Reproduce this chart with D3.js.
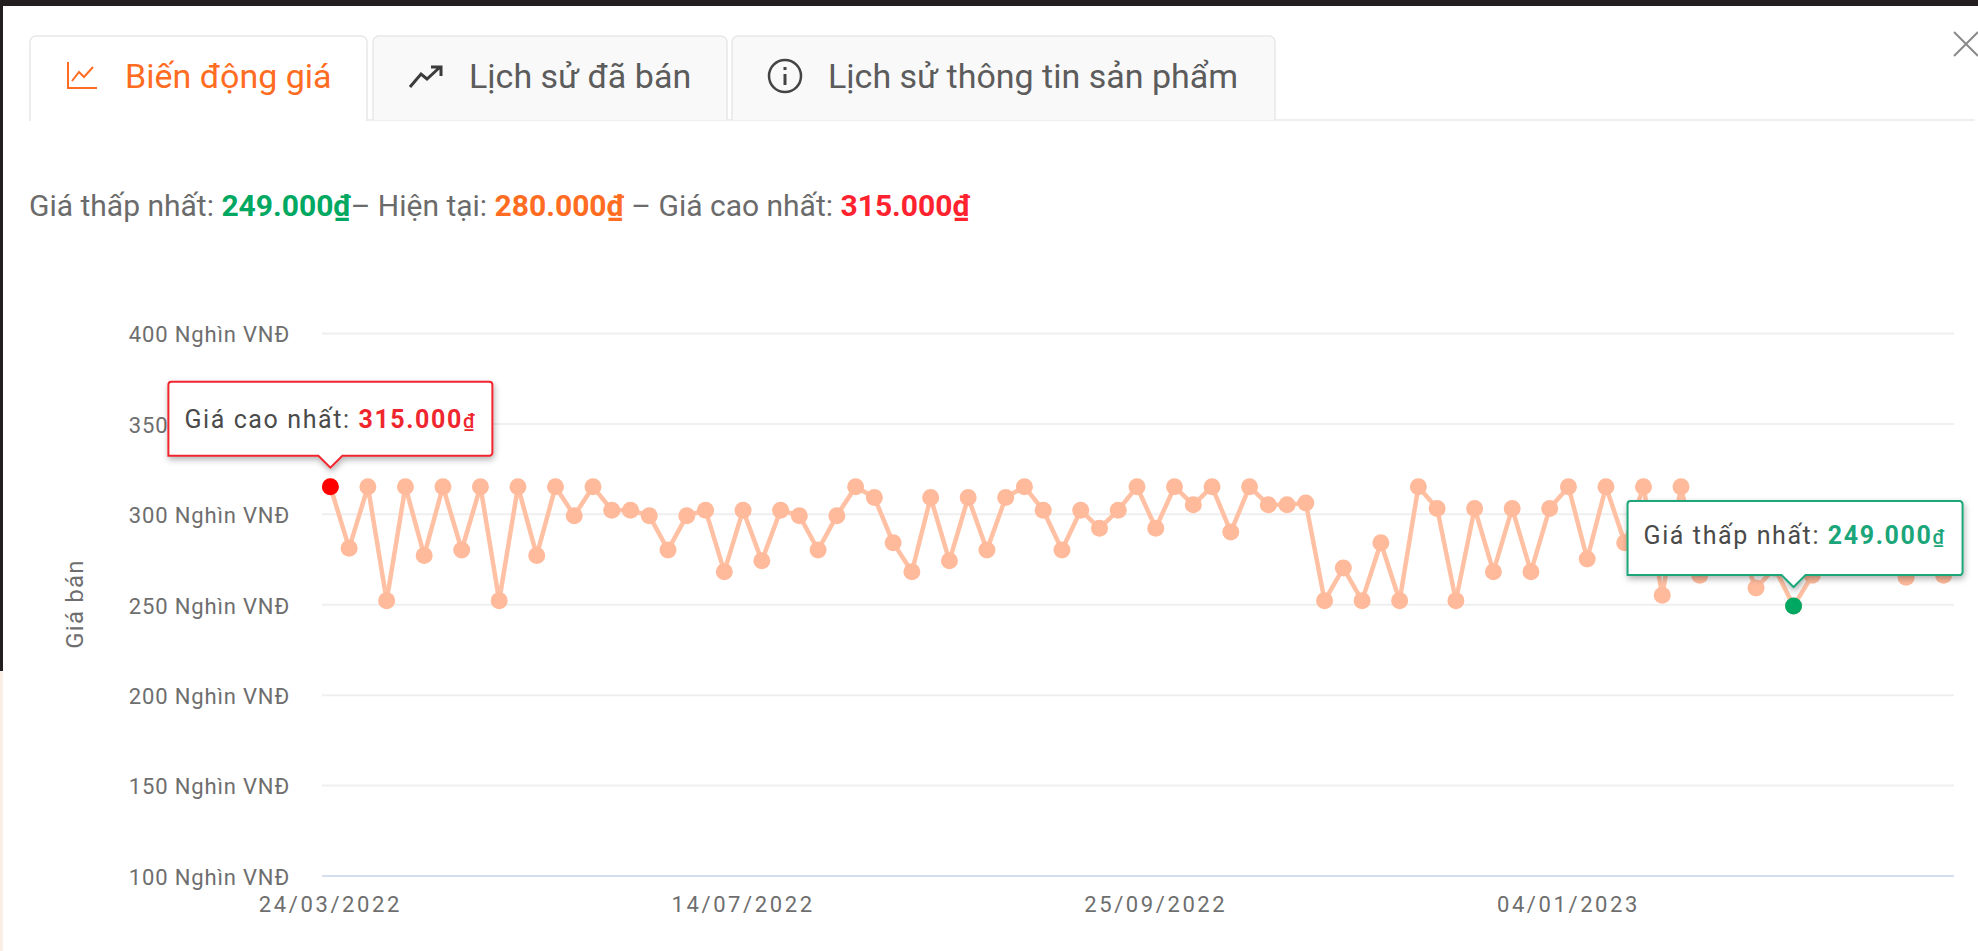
<!DOCTYPE html>
<html>
<head>
<meta charset="utf-8">
<script src="https://cdn.jsdelivr.net/npm/d3@7"></script>
<style>
  html, body { margin: 0; padding: 0; background: #fff; overflow: hidden; }
  text { font-family: Roboto, sans-serif; }
</style>
</head>
<body>
<svg id="chart"></svg>
<script>
const prices = [
  315, 281, 315, 252, 315, 277, 315, 280, 315, 252, 315, 277, 315, 299, 315, 302, 302, 299,
  280, 299, 302, 268, 302, 274, 302, 299, 280, 299, 315, 309, 284, 268, 309, 274, 309, 280,
  309, 315, 302, 280, 302, 292, 302, 315, 292, 315, 305, 315, 290, 315, 305, 305,
  306, 252, 270, 252, 284, 252, 315, 303, 252, 303, 268, 303, 268, 303, 315, 275, 315, 284,
  315, 255, 315, 266, 280, 284, 259, 270, 249, 266, 272, 271, 272, 272, 265, 272, 266
];
const xTickIndex = [0, 22, 44, 66];
const xTickLabels = ['24/03/2022', '14/07/2022', '25/09/2022', '04/01/2023'];
const yTicks = [100, 150, 200, 250, 300, 350, 400];
const tabLabels = ['Biến động giá', 'Lịch sử đã bán', 'Lịch sử thông tin sản phẩm'];
const summaryParts = [
  ['Giá thấp nhất: ', 'plain'], ['249.000₫', 'low'], ['– Hiện tại: ', 'plain'], ['280.000₫', 'now'],
  [' – Giá cao nhất: ', 'plain'], ['315.000₫', 'high']
];

const width = 1978, height = 951;
const svg = d3.select('#chart').attr('width', width).attr('height', height)
  .style('display', 'block');

const colors = { plain: '#6b6b6b', low: '#00a862', now: '#ff6c22', high: '#ff2330' };

const defs = svg.append('defs');
const shadow = defs.append('filter').attr('id', 'tipShadow')
  .attr('x', '-10%').attr('y', '-20%').attr('width', '120%').attr('height', '150%');
shadow.append('feDropShadow').attr('dx', 1).attr('dy', 3).attr('stdDeviation', 3)
  .attr('flood-color', '#000').attr('flood-opacity', 0.3);

// page frame
svg.append('rect').attr('width', width).attr('height', height).attr('fill', '#fff');
svg.append('rect').attr('width', width).attr('height', 6).attr('fill', '#231f20');
svg.append('rect').attr('width', 3).attr('height', 671).attr('fill', '#231f20');
svg.append('rect').attr('y', 671).attr('width', 3).attr('height', 280).attr('fill', '#fbeee6');

// tabs
const tabs = [
  { x0: 30, x1: 367, tx: 125 },
  { x0: 373, x1: 727, tx: 469 },
  { x0: 732, x1: 1275, tx: 828 }
];
svg.append('line').attr('x1', 29).attr('x2', 1975).attr('y1', 120).attr('y2', 120)
  .attr('stroke', '#e8e8e8').attr('stroke-width', 1.5);
tabs.forEach((t, i) => {
  svg.append('path')
    .attr('d', `M${t.x0},${i === 0 ? 121 : 120}V42a6,6 0 0 1 6,-6H${t.x1 - 6}a6,6 0 0 1 6,6V${i === 0 ? 121 : 120}`)
    .attr('fill', i === 0 ? '#fff' : '#f9f9f9')
    .attr('stroke', '#e8e8e8').attr('stroke-width', 1.5);
  svg.append('text')
    .attr('x', t.tx).attr('y', 88)
    .attr('font-size', 34)
    .attr('fill', i === 0 ? '#ff6c22' : '#5c5c5c')
    .text(tabLabels[i]);
});

// tab icons
svg.append('path').attr('d', 'M68,62V88H97M72,81L79,72L84,77L93,67')
  .attr('fill', 'none').attr('stroke', '#ff6c22').attr('stroke-width', 2);
svg.append('path').attr('d', 'M410,87L421,74L427,79L439,68M431,67H441V76')
  .attr('fill', 'none').attr('stroke', '#3c3c3c').attr('stroke-width', 3);
svg.append('circle').attr('cx', 785).attr('cy', 76).attr('r', 16)
  .attr('fill', 'none').attr('stroke', '#444').attr('stroke-width', 2.5);
svg.append('path').attr('d', 'M785,74V85M785,67V70')
  .attr('fill', 'none').attr('stroke', '#444').attr('stroke-width', 3);

// close icon
svg.append('path').attr('d', 'M1954,32L1978,56M1978,32L1954,56')
  .attr('fill', 'none').attr('stroke', '#8a8a8a').attr('stroke-width', 2);

// summary line
const summary = svg.append('text').attr('x', 29).attr('y', 216).attr('font-size', 30);
summaryParts.forEach(p => {
  summary.append('tspan')
    .attr('fill', colors[p[1]])
    .attr('font-weight', p[1] === 'plain' ? 400 : 700)
    .text(p[0]);
});
summary.style('white-space', 'pre');

// chart
const plot = { left: 322, right: 1954, top: 333, bottom: 875.5 };
const x = d3.scaleBand().domain(d3.range(prices.length)).range([plot.left - 1, plot.right - 1]);
const y = d3.scaleLinear().domain([100, 400]).range([plot.bottom, plot.top]);
const px = i => x(i) + x.bandwidth() / 2;

const yAxis = d3.axisLeft(y)
  .tickValues(yTicks)
  .tickFormat(d => `${d} Nghìn VNĐ`)
  .tickSizeInner(-(plot.right - plot.left))
  .tickSizeOuter(0)
  .tickPadding(32);
const gy = svg.append('g').attr('transform', `translate(${plot.left},0)`).call(yAxis);
gy.select('.domain').remove();
gy.selectAll('line').attr('stroke', d => d === 100 ? '#d5deee' : '#efefef').attr('stroke-width', 2);
gy.selectAll('text').attr('font-size', 22).attr('letter-spacing', 0.85).attr('fill', '#6e6e6e')
  .attr('dy', '0.4em')
  .attr('font-family', 'Roboto, sans-serif');

const xAxis = d3.axisBottom(x)
  .tickValues(xTickIndex)
  .tickFormat(d => xTickLabels[xTickIndex.indexOf(d)])
  .tickSize(0)
  .tickPadding(21);
const gx = svg.append('g').attr('transform', `translate(0,${plot.bottom})`).call(xAxis);
gx.select('.domain').remove();
gx.selectAll('text').attr('font-size', 22).attr('letter-spacing', 2.6).attr('fill', '#6e6e6e')
  .attr('font-family', 'Roboto, sans-serif');

svg.append('text')
  .attr('transform', 'translate(83,604) rotate(-90)')
  .attr('text-anchor', 'middle')
  .attr('font-size', 24)
  .attr('letter-spacing', 1.2)
  .attr('fill', '#6e6e6e')
  .text('Giá bán');

svg.append('path')
  .datum(prices)
  .attr('fill', 'none')
  .attr('stroke', '#ffc0a3')
  .attr('stroke-width', 4.5)
  .attr('stroke-linejoin', 'round')
  .attr('d', d3.line().x((d, i) => px(i)).y(d => y(d)));

svg.append('g')
  .selectAll('circle')
  .data(prices)
  .enter().append('circle')
  .attr('cx', (d, i) => px(i))
  .attr('cy', d => y(d))
  .attr('r', 8.5)
  .attr('fill', '#ffba9c');

// highlighted points and their tips
const tip = (idx, color, label, value, dx0, dx1, boxH, textDy) => {
  const cx = px(idx), cy = y(prices[idx]);
  const tipY = cy - 19;
  const baseY = tipY - 12;
  const topY = baseY - boxH;
  const g = svg.append('g');
  g.append('path')
    .attr('d', `M${cx + dx0},${baseY}V${topY + 3}a3,3 0 0 1 3,-3H${cx + dx1 - 3}a3,3 0 0 1 3,3V${baseY - 3}a3,3 0 0 1 -3,3`
      + `H${cx + 12}L${cx},${tipY}L${cx - 12},${baseY}H${cx + dx0}Z`)
    .attr('fill', '#fff')
    .attr('stroke', color)
    .attr('stroke-width', 2)
    .attr('filter', 'url(#tipShadow)');
  const t = g.append('text')
    .attr('x', cx + dx0 + 16).attr('y', topY + boxH / 2 + textDy)
    .attr('font-size', 25).attr('letter-spacing', 1.6);
  t.append('tspan').attr('fill', '#4a4a4a').text(label + ' ');
  t.append('tspan').attr('fill', color).attr('font-weight', 700).text(value.slice(0, -1));
  t.append('tspan').attr('fill', color).attr('font-size', 20).attr('font-weight', 500).text(value.slice(-1));
};

const iMax = prices.indexOf(d3.max(prices));
const iMin = prices.indexOf(d3.min(prices));
svg.append('circle').attr('cx', px(iMax)).attr('cy', y(prices[iMax])).attr('r', 8.5).attr('fill', '#ff0000');
svg.append('circle').attr('cx', px(iMin)).attr('cy', y(prices[iMin])).attr('r', 8.5).attr('fill', '#00a862');
tip(iMax, '#f0262f', 'Giá cao nhất:', '315.000₫', -162, 162, 74, 9);
tip(iMin, '#1aa67a', 'Giá thấp nhất:', '249.000₫', -166, 169, 74, 6);
</script>
</body>
</html>
